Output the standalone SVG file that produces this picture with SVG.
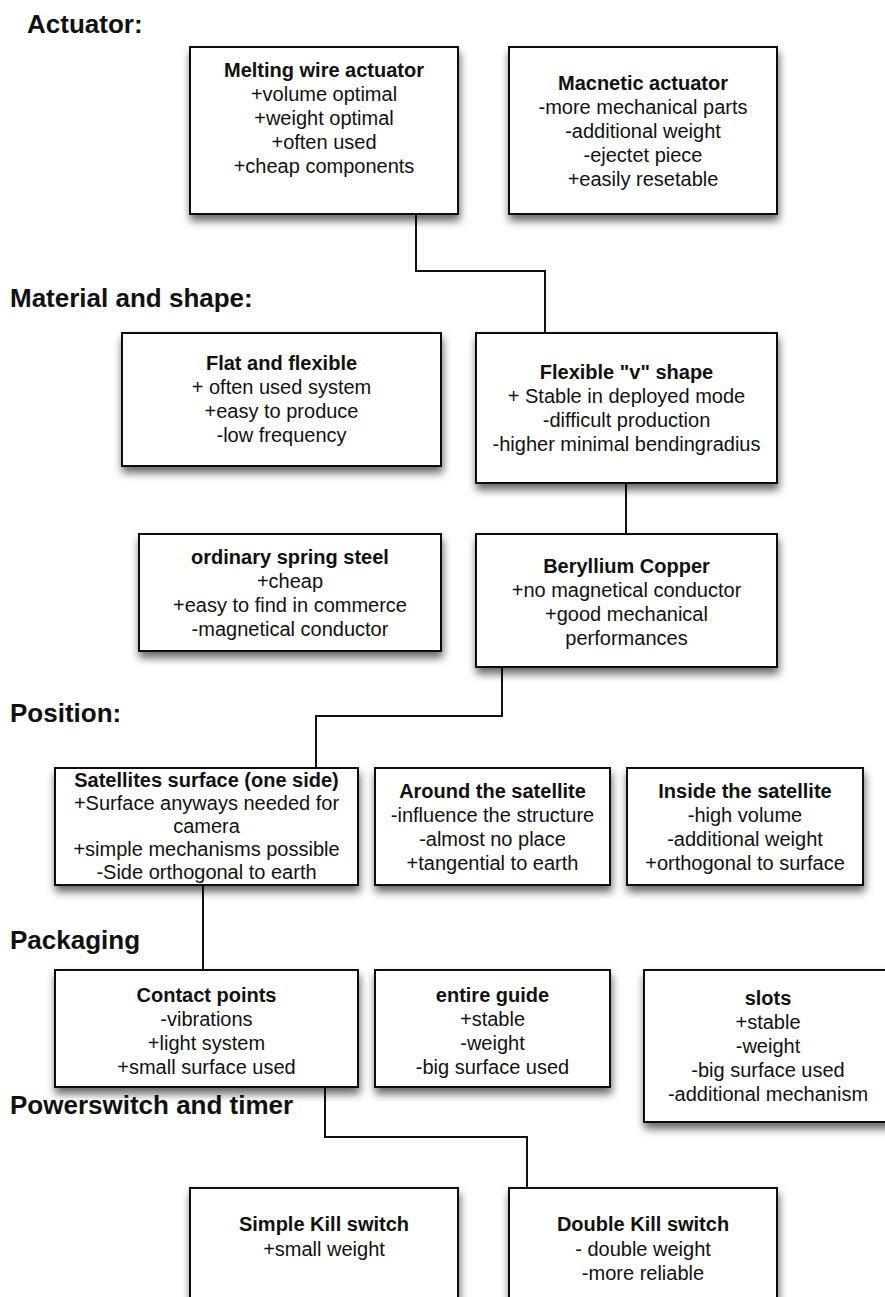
<svg xmlns="http://www.w3.org/2000/svg" width="885" height="1297" viewBox="0 0 885 1297">
<defs>
<filter id="sh" x="-10%" y="-10%" width="125%" height="140%">
<feDropShadow dx="1" dy="6" stdDeviation="4.5" flood-color="#000" flood-opacity="0.6"/>
</filter>
</defs>
<style>
.bx{fill:#fff;stroke:#111;stroke-width:2;filter:url(#sh)}
.t{font-family:"Liberation Sans",Arial,sans-serif;font-size:20px;fill:#111;text-anchor:middle}
.b{font-weight:bold}
.h{font-family:"Liberation Sans",Arial,sans-serif;font-size:26px;font-weight:bold;fill:#111}
.c{fill:none;stroke:#111;stroke-width:2}
</style>
<rect width="885" height="1297" fill="#fff"/>
<g id="headers">
<text class="h" x="27" y="33">Actuator:</text>
<text class="h" x="10" y="307">Material and shape:</text>
<text class="h" x="10" y="722">Position:</text>
<text class="h" x="10" y="949">Packaging</text>
<text class="h" x="10" y="1114">Powerswitch and timer</text>
</g>
<g id="connectors">
<path class="c" d="M416 214 V271 H545 V333"/>
<path class="c" d="M626 483 V534"/>
<path class="c" d="M502 667 V716 H316 V768"/>
<path class="c" d="M203 885 V970"/>
<path class="c" d="M325 1087 V1137 H527 V1188"/>
</g>
<g id="melting">
<rect class="bx" x="190" y="47" width="268" height="167"/>
<text class="t b" x="324" y="77">Melting wire actuator</text>
<text class="t" x="324" y="101">+volume optimal</text>
<text class="t" x="324" y="125">+weight optimal</text>
<text class="t" x="324" y="149">+often used</text>
<text class="t" x="324" y="173">+cheap components</text>
</g>
<g id="macnetic">
<rect class="bx" x="509" y="47" width="268" height="167"/>
<text class="t b" x="643" y="90">Macnetic actuator</text>
<text class="t" x="643" y="114">-more mechanical parts</text>
<text class="t" x="643" y="138">-additional weight</text>
<text class="t" x="643" y="162">-ejectet piece</text>
<text class="t" x="643" y="186">+easily resetable</text>
</g>
<g id="flat">
<rect class="bx" x="122" y="333" width="319" height="133"/>
<text class="t b" x="281.5" y="370">Flat and flexible</text>
<text class="t" x="281.5" y="394">+ often used system</text>
<text class="t" x="281.5" y="418">+easy to produce</text>
<text class="t" x="281.5" y="442">-low frequency</text>
</g>
<g id="vshape">
<rect class="bx" x="476" y="333" width="301" height="150"/>
<text class="t b" x="626.5" y="379">Flexible "v" shape</text>
<text class="t" x="626.5" y="403">+ Stable in deployed mode</text>
<text class="t" x="626.5" y="427">-difficult production</text>
<text class="t" x="626.5" y="451">-higher minimal bendingradius</text>
</g>
<g id="springsteel">
<rect class="bx" x="139" y="534" width="302" height="117"/>
<text class="t b" x="290" y="564">ordinary spring steel</text>
<text class="t" x="290" y="588">+cheap</text>
<text class="t" x="290" y="612">+easy to find in commerce</text>
<text class="t" x="290" y="636">-magnetical conductor</text>
</g>
<g id="beryllium">
<rect class="bx" x="476" y="534" width="301" height="133"/>
<text class="t b" x="626.5" y="573">Beryllium Copper</text>
<text class="t" x="626.5" y="597">+no magnetical conductor</text>
<text class="t" x="626.5" y="621">+good mechanical</text>
<text class="t" x="626.5" y="645">performances</text>
</g>
<g id="surface">
<rect class="bx" x="55" y="768" width="303" height="117"/>
<text class="t b" x="206.5" y="787">Satellites surface (one side)</text>
<text class="t" x="206.5" y="810">+Surface anyways needed for</text>
<text class="t" x="206.5" y="833">camera</text>
<text class="t" x="206.5" y="856">+simple mechanisms possible</text>
<text class="t" x="206.5" y="879">-Side orthogonal to earth</text>
</g>
<g id="around">
<rect class="bx" x="375" y="768" width="235" height="117"/>
<text class="t b" x="492.5" y="798">Around the satellite</text>
<text class="t" x="492.5" y="822">-influence the structure</text>
<text class="t" x="492.5" y="846">-almost no place</text>
<text class="t" x="492.5" y="870">+tangential to earth</text>
</g>
<g id="inside">
<rect class="bx" x="627" y="768" width="236" height="117"/>
<text class="t b" x="745" y="798">Inside the satellite</text>
<text class="t" x="745" y="822">-high volume</text>
<text class="t" x="745" y="846">-additional weight</text>
<text class="t" x="745" y="870">+orthogonal to surface</text>
</g>
<g id="contact">
<rect class="bx" x="55" y="970" width="303" height="117"/>
<text class="t b" x="206.5" y="1002">Contact points</text>
<text class="t" x="206.5" y="1026">-vibrations</text>
<text class="t" x="206.5" y="1050">+light system</text>
<text class="t" x="206.5" y="1074">+small surface used</text>
</g>
<g id="guide">
<rect class="bx" x="375" y="970" width="235" height="117"/>
<text class="t b" x="492.5" y="1002">entire guide</text>
<text class="t" x="492.5" y="1026">+stable</text>
<text class="t" x="492.5" y="1050">-weight</text>
<text class="t" x="492.5" y="1074">-big surface used</text>
</g>
<g id="slots">
<rect class="bx" x="644" y="970" width="248" height="152"/>
<text class="t b" x="768" y="1005">slots</text>
<text class="t" x="768" y="1029">+stable</text>
<text class="t" x="768" y="1053">-weight</text>
<text class="t" x="768" y="1077">-big surface used</text>
<text class="t" x="768" y="1101">-additional mechanism</text>
</g>
<g id="simplekill">
<rect class="bx" x="190" y="1188" width="268" height="130"/>
<text class="t b" x="324" y="1231">Simple Kill switch</text>
<text class="t" x="324" y="1256">+small weight</text>
</g>
<g id="doublekill">
<rect class="bx" x="509" y="1188" width="268" height="130"/>
<text class="t b" x="643" y="1231">Double Kill switch</text>
<text class="t" x="643" y="1256">- double weight</text>
<text class="t" x="643" y="1280">-more reliable</text>
</g>
</svg>
